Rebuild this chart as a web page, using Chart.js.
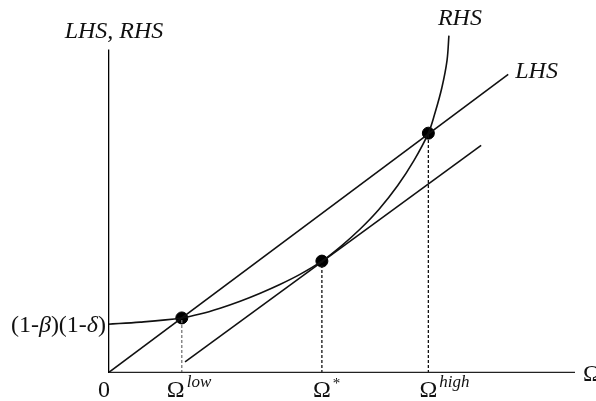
<!DOCTYPE html>
<html><head><meta charset="utf-8">
<script src="https://cdn.jsdelivr.net/npm/chart.js@4/dist/chart.umd.min.js"></script>
<style>html,body{margin:0;padding:0;background:#fff;overflow:hidden}#wrap{width:596px;height:401px;position:relative}</style>
</head><body><div id="wrap"><canvas id="c"></canvas></div>
<script>
// RHS curve
const rhsX = [0, 0.69, 1.58, 1.97, 2.40, 2.83, 3.26, 3.68, 4.11, 4.58, 5.00, 5.40, 5.80, 6.20, 6.55, 6.86, 7.00, 7.15, 7.26, 7.30];
const rhsY = [1.40, 1.46, 1.58, 1.69, 1.86, 2.06, 2.29, 2.54, 2.83, 3.21, 3.65, 4.13, 4.69, 5.37, 6.09, 6.88, 7.45, 8.19, 8.97, 9.68];
// LHS line
const lhsX = [0, 8.57];
const lhsY = [0, 8.57];
// tangent (parallel) line
const tanX = [1.65, 7.99];
const tanY = [0.32, 6.53];
// equilibrium points
const eqX = [1.58, 4.58, 6.86];
const eqY = [1.58, 3.21, 6.88];
// axes extents
const axisXMax = 10;
const axisYMax = 9.28;
const interceptY = 1.40;
// labels
const xTickMain = ['0', 'Ω', 'Ω', 'Ω'];
const xTickSup = ['', 'low', '*', 'high'];
const yLabel = 'LHS, RHS';
const xLabel = 'Ω';
const rhsLabel = 'RHS';
const lhsLabel = 'LHS';

const pts = (xs, ys) => xs.map((x, i) => ({x, y: ys[i]}));
const black = '#000';
const ds = [];
ds.push({data: pts([0, 0], [0, axisYMax]), borderColor: black, borderWidth: 2.6, pointRadius: 0, showLine: true});
ds.push({data: pts([0, axisXMax], [0, 0]), borderColor: '#222', borderWidth: 2.6, pointRadius: 0, showLine: true});
eqX.forEach((x, i) => {
  ds.push({data: pts([x, x], [0, eqY[i]]), borderColor: i === 0 ? '#777' : '#111', borderWidth: 1.3, borderDash: [3, 2], pointRadius: 0, showLine: true});
});
ds.push({data: pts(lhsX, lhsY), borderColor: '#111', borderWidth: 1.6, pointRadius: 0, showLine: true});
ds.push({data: pts(tanX, tanY), borderColor: '#111', borderWidth: 1.6, pointRadius: 0, showLine: true});
ds.push({data: pts(rhsX, rhsY), borderColor: '#111', borderWidth: 1.6, pointRadius: 0, showLine: true, tension: 0.35});
ds.push({data: pts(eqX, eqY), borderColor: black, backgroundColor: black, pointRadius: 6, showLine: false});

const labelPlugin = {
  id: 'labels',
  afterDraw(chart) {
    const ctx = chart.ctx, xs = chart.scales.x, ys = chart.scales.y;
    const X = v => xs.getPixelForValue(v), Y = v => ys.getPixelForValue(v);
    ctx.save();
    ctx.fillStyle = '#111';
    ctx.textBaseline = 'alphabetic';
    // y label
    ctx.font = 'italic 24px "Liberation Serif"';
    ctx.textAlign = 'center';
    ctx.fillText(yLabel, X(0) + 6, 38);
    // RHS / LHS labels
    ctx.fillText(rhsLabel, X(rhsX[rhsX.length - 1]) + 11, 25);
    ctx.textAlign = 'left';
    ctx.fillText(lhsLabel, X(lhsX[1]) + 7, 78);
    // intercept label: (1-β)(1-δ)
    const parts = [['(1-', false], ['β', true], [')(1-', false], ['δ', true], [')', false]];
    const f = it => (it ? 'italic ' : '') + '24px "Liberation Serif"';
    let total = 0;
    parts.forEach(([t, it]) => { ctx.font = f(it); total += ctx.measureText(t).width; });
    let cx = X(0) - 2 - total;
    const by = Y(interceptY) + 8;
    ctx.textAlign = 'left';
    parts.forEach(([t, it]) => { ctx.font = f(it); ctx.fillText(t, cx, by); cx += ctx.measureText(t).width; });
    // x tick labels
    const tickPos = [0].concat(eqX);
    const shift = [-4, -6, 0, 0];
    tickPos.forEach((v, i) => {
      ctx.font = '24px "Liberation Serif"';
      const main = xTickMain[i];
      const mw = ctx.measureText(main).width;
      const left = X(v) - mw / 2 + shift[i];
      ctx.fillText(main, left, 397);
      if (xTickSup[i]) {
        const sup = xTickSup[i];
        if (sup === '*') { ctx.font = '15px "Liberation Serif"'; ctx.fillText(sup, left + mw + 2, 388); }
        else { ctx.font = 'italic 17px "Liberation Serif"'; ctx.fillText(sup, left + mw + 2, 387); }
      }
    });
    // x axis label
    ctx.font = '24px "Liberation Serif"';
    ctx.fillText(xLabel, X(axisXMax) + 8, 381);
    ctx.restore();
  }
};

new Chart(document.getElementById('c'), {
  type: 'scatter',
  data: {datasets: ds},
  options: {
    responsive: true, maintainAspectRatio: false, animation: false,
    layout: {padding: {left: 108, right: 21, top: 7, bottom: 28}},
    plugins: {legend: {display: false}, tooltip: {enabled: false}},
    scales: {
      x: {type: 'linear', min: 0, max: axisXMax, display: false},
      y: {type: 'linear', min: 0, max: 10.5, display: false}
    }
  },
  plugins: [labelPlugin]
});
</script></body></html>
